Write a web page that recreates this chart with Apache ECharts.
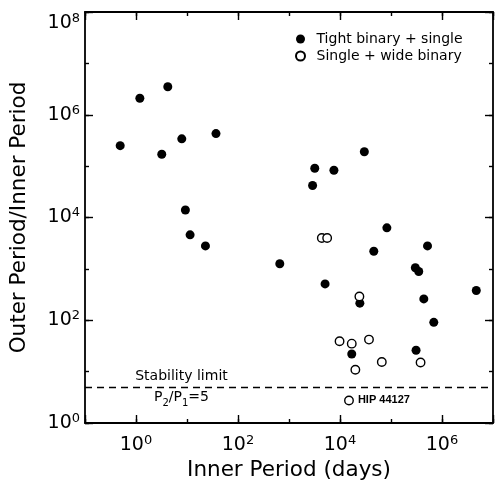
<!DOCTYPE html>
<html>
<head>
<meta charset="utf-8">
<script src="https://cdn.jsdelivr.net/npm/echarts@6/dist/echarts.min.js"></script>
<style>
html,body{margin:0;padding:0;background:#fff;}
#chart{width:496px;height:489px;}
</style>
</head>
<body>
<div id="chart"></div>
<script>
// ---- Data ----
const tightInner = [0.49, 1.19, 4.2, 3.2, 7.9, 37, 9.3, 11.5, 23,
  30000, 3200, 7600, 2900, 83000, 520000, 46000, 660, 300000, 350000,
  5100, 24500, 4.7e6, 440000, 690000, 17000, 310000];
const tightRatio = [2.5e5, 2.1e6, 3.5e6, 1.7e5, 3.4e5, 4.3e5, 1.4e4, 4600, 2800,
  1.9e5, 9.1e4, 8.3e4, 4.2e4, 6300, 2800, 2200, 1260, 1050, 890,
  510, 215, 380, 260, 91, 22, 26];

const wideInner = [4400, 5600, 24000, 9800, 17000, 37000, 66000, 20000, 380000];
const wideRatio = [4000, 4000, 290, 39, 35, 42, 15.4, 10.9, 15.1];

const hipName = 'HIP 44127';
const hipInner = 15000;
const hipRatio = 2.75;

const stabilityRatio = 5;          // P2/P1 = 5
const stabilityLabelInner = 7.8;   // where the annotation sits along x

const seriesNames = ['Tight binary + single', 'Single + wide binary'];
const xName = 'Inner Period (days)';
const yName = 'Outer Period/Inner Period';
const X_MIN = 0.1, X_MAX = 1e7;
const Y_MIN = 1, Y_MAX = 1e8;

// ---- Chart ----
const FONT = 'DejaVu Sans';
const black = '#000';
const axisLineStyle = { color: black, width: 1.8 };

function powLabel(v) {
  const l = Math.log10(v);
  const e = Math.round(l);
  if (Math.abs(l - e) > 1e-6 || e % 2 !== 0) return '';
  return '{b|10}{s|' + e + '}';
}
const labelRich = {
  b: { fontSize: 19, fontFamily: FONT, color: black, lineHeight: 22 },
  s: { fontSize: 13, fontFamily: FONT, color: black, verticalAlign: 'top', lineHeight: 14 }
};

function mkAxis(base, position, tickLen, opts) {
  return Object.assign({
    type: 'log', logBase: base, position: position,
    axisLine: { show: true, lineStyle: axisLineStyle },
    axisTick: { show: true, inside: true, length: tickLen, lineStyle: { color: black, width: 1.4 } },
    axisLabel: { show: false },
    splitLine: { show: false },
    minorTick: { show: false }
  }, opts);
}

const xData = tightInner.map((x, i) => [x, tightRatio[i]]);
const wData = wideInner.map((x, i) => [x, wideRatio[i]]);
wData.push({
  value: [hipInner, hipRatio],
  label: {
    show: true, position: 'right', distance: 4, formatter: hipName,
    fontSize: 11, fontWeight: 'bold', fontFamily: 'Liberation Sans', color: black
  }
});

const chart = echarts.init(document.getElementById('chart'), null, { renderer: 'canvas' });
chart.setOption({
  animation: false,
  backgroundColor: '#fff',
  grid: { left: 85, right: -2, top: 12, bottom: 66, containLabel: false },
  legend: {
    orient: 'vertical', left: 290, top: 27,
    itemWidth: 22, itemHeight: 9, itemGap: 3,
    textStyle: { fontSize: 14, fontFamily: FONT, color: black },
    data: seriesNames.map(n => ({ name: n, icon: 'circle' }))
  },
  xAxis: [
    mkAxis(10, 'bottom', 4, { min: X_MIN, max: X_MAX }),
    mkAxis(100, 'bottom', 8, {
      min: X_MIN, max: X_MAX, axisLine: { show: false },
      axisLabel: { show: true, margin: 11, formatter: powLabel, rich: labelRich },
      name: xName, nameLocation: 'middle', nameGap: 33,
      nameTextStyle: { fontSize: 21.5, fontFamily: FONT, color: black }
    }),
    mkAxis(10, 'top', 4, { min: X_MIN, max: X_MAX }),
    mkAxis(100, 'top', 8, { min: X_MIN, max: X_MAX, axisLine: { show: false } })
  ],
  yAxis: [
    mkAxis(10, 'left', 4, { min: Y_MIN, max: Y_MAX }),
    mkAxis(100, 'left', 8, {
      min: Y_MIN, max: Y_MAX, axisLine: { show: false },
      axisLabel: { show: true, margin: 5, formatter: powLabel, rich: labelRich,
                   verticalAlignMaxLabel: 'top' },
      name: yName, nameLocation: 'middle', nameGap: 55,
      nameTextStyle: { fontSize: 21.5, fontFamily: FONT, color: black }
    }),
    mkAxis(10, 'right', 4, { min: Y_MIN, max: Y_MAX }),
    mkAxis(100, 'right', 8, { min: Y_MIN, max: Y_MAX, axisLine: { show: false } })
  ],
  series: [
    {
      name: seriesNames[0], type: 'scatter', xAxisIndex: 0, yAxisIndex: 0,
      symbol: 'circle', symbolSize: 9,
      itemStyle: { color: black, opacity: 1 },
      data: xData,
      markLine: {
        silent: true, symbol: 'none',
        lineStyle: { color: black, width: 1.3, type: [7, 5], opacity: 1 },
        label: { show: false },
        data: [{ yAxis: stabilityRatio }]
      }
    },
    {
      name: seriesNames[1], type: 'scatter', xAxisIndex: 0, yAxisIndex: 0,
      symbol: 'circle', symbolSize: 8.5,
      itemStyle: { color: '#fff', borderColor: black, borderWidth: 1.4, opacity: 1 },
      data: wData,
      markPoint: {
        silent: true, symbol: 'circle', symbolSize: 0,
        label: {
          show: true, position: 'inside',
          formatter: '{t|Stability limit}\n{p|P}{sb|2}{p|/P}{sb|1}{p|=5}',
          rich: {
            t: { fontSize: 14, fontFamily: FONT, color: black, lineHeight: 21, align: 'center' },
            p: { fontSize: 14, fontFamily: FONT, color: black, lineHeight: 21 },
            sb: { fontSize: 10, fontFamily: FONT, color: black, verticalAlign: 'bottom', lineHeight: 15 }
          }
        },
        data: [{ coord: [stabilityLabelInner, stabilityRatio] }]
      }
    }
  ]
});
</script>
</body>
</html>
